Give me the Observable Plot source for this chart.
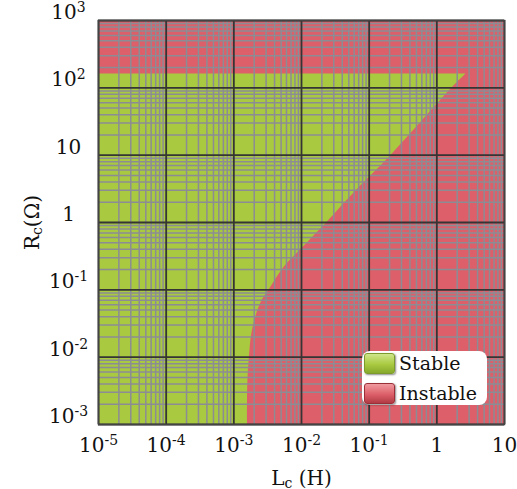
<!DOCTYPE html>
<html><head><meta charset="utf-8">
<script src="https://cdn.jsdelivr.net/npm/d3@7"></script>
<script src="https://cdn.jsdelivr.net/npm/@observablehq/plot@0.6"></script>
<style>
body{margin:0;background:#fff;}
#wrap{position:relative;width:517px;height:489px;font-family:"DejaVu Serif",serif;}
#legend{position:absolute;left:362px;top:351px;width:125px;height:54px;background:#fff;border-radius:8px;box-sizing:border-box;}
.item{position:absolute;left:2px;height:22px;display:flex;align-items:center;font-size:19px;color:#111;}
.sw{width:29px;height:19px;border-radius:3px;margin-right:4px;box-shadow:1px 1px 2px rgba(0,0,0,0.45);}
</style></head><body><div id="wrap"></div>
<script>
// axis extents and tick labels
const xDomain = [1e-5, 10];
const yDomain = [1e-3, 1e3];
const xDecades = [1e-5, 1e-4, 1e-3, 1e-2, 1e-1, 1, 10];
const xTickLabels = ["10^-5", "10^-4", "10^-3", "10^-2", "10^-1", "1", "10"];
const yDecades = [1e-3, 1e-2, 1e-1, 1, 10, 100, 1000];
const yTickLabels = ["10^-3", "10^-2", "10^-1", "1", "10", "10^2", "10^3"];
const minorMultipliers = [2, 3, 4, 5, 6, 7, 8, 9];
// stability boundary (Rc in ohm, Lc in henry)
const boundaryR = [0.001, 0.0041, 0.01, 0.0224, 0.0445, 0.0694, 0.1, 0.217, 0.384, 0.68, 1, 2.99, 10, 100, 160];
const boundaryL = [0.00159, 0.00161, 0.0017, 0.00185, 0.00219, 0.00262, 0.00333, 0.00555, 0.00955, 0.0164, 0.0238, 0.0646, 0.212, 1.69, 2.7];
const legendLabels = ["Stable", "Instable"];
const regionColors = ["#a9c940", "#dc5f69"];

const boundary = boundaryR.map((R, i) => ({R, L: boundaryL[i]}));
const xMinor = xDecades.slice(0, -1).flatMap(d => minorMultipliers.map(m => m * d));
const yMinor = yDecades.slice(0, -1).flatMap(d => minorMultipliers.map(m => m * d));
const xLab = new Map(xDecades.map((d, i) => [d, xTickLabels[i]]));
const yLab = new Map(yDecades.map((d, i) => [d, yTickLabels[i]]));

const plot = Plot.plot({
  width: 517, height: 489,
  marginTop: 20, marginBottom: 65, marginLeft: 98, marginRight: 13,
  style: {fontFamily: "DejaVu Serif", fontSize: "20px", color: "#111", background: "transparent"},
  x: {type: "log", domain: xDomain},
  y: {type: "log", domain: yDomain},
  marks: [
    Plot.frame({fill: regionColors[1]}),
    Plot.areaX(boundary, {y: "R", x1: xDomain[0], x2: "L", fill: regionColors[0], curve: "catmull-rom"}),
    Plot.ruleX(xMinor, {stroke: "#8c8c94", strokeWidth: 1.5}),
    Plot.ruleY(yMinor, {stroke: "#8c8c94", strokeWidth: 1.5}),
    Plot.ruleX(xDecades, {stroke: "#353535", strokeWidth: 1.8}),
    Plot.ruleY(yDecades, {stroke: "#353535", strokeWidth: 1.8}),
    Plot.frame({stroke: "#444", strokeWidth: 1.5}),
    Plot.axisX(xDecades, {tickSize: 0, tickPadding: 13, tickFormat: d => xLab.get(d),
      label: "Lc (H)", labelAnchor: "center", labelOffset: 60, labelArrow: "none"}),
    Plot.axisY(yDecades, {tickSize: 0, tickPadding: 30, textAnchor: "middle", dy: -8, tickFormat: d => yLab.get(d),
      label: "Rc(Ω)", labelAnchor: "center", labelOffset: 74, labelArrow: "none"})
  ]
});

const NS = "http://www.w3.org/2000/svg";
function rich(el, parts) {
  el.textContent = "";
  for (const p of parts) {
    const ts = document.createElementNS(NS, "tspan");
    ts.textContent = p.t;
    if (p.size) ts.setAttribute("font-size", p.size);
    if (p.dy) ts.setAttribute("dy", p.dy);
    el.appendChild(ts);
  }
}
plot.querySelectorAll('g[aria-label="x-axis tick label"] text, g[aria-label="y-axis tick label"] text').forEach(t => {
  const m = t.textContent.match(/^(\d+)\^(.+)$/);
  if (m) rich(t, [{t: m[1]}, {t: m[2], size: "14px", dy: "-7"}]);
});
plot.querySelectorAll('g[aria-label="x-axis label"] text').forEach(t => {
  rich(t, [{t: "L"}, {t: "c", size: "14px", dy: "3"}, {t: " (H)", dy: "-3"}]);
  t.setAttribute("font-size", "20px");
});
plot.querySelectorAll('g[aria-label="y-axis label"] text').forEach(t => {
  rich(t, [{t: "R"}, {t: "c", size: "14px", dy: "3"}, {t: "(Ω)", dy: "-3"}]);
  t.setAttribute("font-size", "20px");
});

const wrap = document.getElementById("wrap");
wrap.appendChild(plot);
const legend = document.createElement("div");
legend.id = "legend";
const swatchGrad = [
  "linear-gradient(#cfe68a, #a9c940 55%, #86a92c)",
  "linear-gradient(#f09aa0, #dc5f69 55%, #b23a44)"
];
legendLabels.forEach((lab, i) => {
  const it = document.createElement("div");
  it.className = "item";
  it.style.top = (1 + i * 30) + "px";
  const sw = document.createElement("div");
  sw.className = "sw";
  sw.style.background = swatchGrad[i];
  sw.style.border = "1px solid " + (i ? "#9a2f38" : "#7d9b2c");
  const tx = document.createElement("span");
  tx.textContent = lab;
  it.appendChild(sw); it.appendChild(tx);
  legend.appendChild(it);
});
wrap.appendChild(legend);
</script></body></html>
